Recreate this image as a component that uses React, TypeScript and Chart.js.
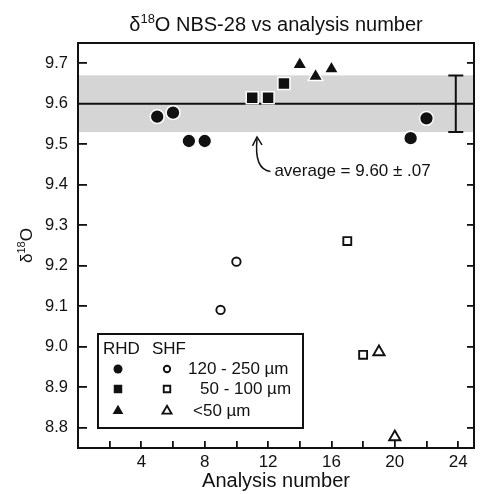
import React, { useEffect, useRef } from 'react';
import { Chart, registerables } from 'chart.js';
import { drawPoint } from 'chart.js/helpers';

Chart.register(...registerables);

const FONT = "'Liberation Sans', Arial, Helvetica, sans-serif";
const INK = '#111';

// ---- data ----
const rhdLargeX = [5, 6, 7, 8, 21, 22];
const rhdLargeY = [9.568, 9.578, 9.508, 9.508, 9.515, 9.564];
const rhdMidX = [11, 12, 13];
const rhdMidY = [9.615, 9.615, 9.65];
const rhdSmallX = [14, 15, 16];
const rhdSmallY = [9.697, 9.668, 9.686];
const shfLargeX = [9, 10];
const shfLargeY = [9.091, 9.21];
const shfMidX = [17, 18];
const shfMidY = [9.261, 8.98];
const shfSmallX = [19, 20];
const shfSmallY = [8.987, 8.777];

const average = 9.6;
const spread = 0.07;
const errorBarX = 23.85;

const xTickValues = [2, 4, 6, 8, 10, 12, 14, 16, 18, 20, 22, 24];
const yTickValues = [8.8, 8.9, 9.0, 9.1, 9.2, 9.3, 9.4, 9.5, 9.6, 9.7];
const xMin = 0;
const xMax = 25;
const yMin = 8.75;
const yMax = 9.75;

const legendRows = ['120 - 250 \u00b5m', '50 - 100 \u00b5m', '<50 \u00b5m'];
const annotationText = 'average = 9.60 \u00b1 .07';

const toPoints = (xs: number[], ys: number[]) => xs.map((x, i) => ({ x, y: ys[i] }));

type Seg = { t: string; size: number; dy: number };

function drawSegs(ctx: CanvasRenderingContext2D, segs: Seg[], cx: number, baseY: number) {
  let total = 0;
  const widths = segs.map((s) => {
    ctx.font = `${s.size}px ${FONT}`;
    const w = ctx.measureText(s.t).width;
    total += w;
    return w;
  });
  let x = cx - total / 2;
  ctx.textAlign = 'left';
  ctx.textBaseline = 'alphabetic';
  segs.forEach((s, i) => {
    ctx.font = `${s.size}px ${FONT}`;
    ctx.fillText(s.t, x, baseY + s.dy);
    x += widths[i];
  });
}

export default function App() {
  const ref = useRef<HTMLCanvasElement>(null);

  useEffect(() => {
    const canvas = ref.current!;

    const overlay = {
      id: 'overlay',
      beforeDatasetsDraw(chart: any) {
        const { ctx, chartArea: a, scales } = chart;
        const xs = scales.x;
        const ys = scales.y;
        ctx.save();
        // grey band
        const yTop = ys.getPixelForValue(average + spread);
        const yBot = ys.getPixelForValue(average - spread);
        ctx.fillStyle = '#d5d5d5';
        ctx.fillRect(a.left, yTop, a.right - a.left, yBot - yTop);
        // average line
        const yAvg = ys.getPixelForValue(average);
        ctx.strokeStyle = INK;
        ctx.lineWidth = 2;
        ctx.beginPath();
        ctx.moveTo(a.left, yAvg);
        ctx.lineTo(a.right, yAvg);
        ctx.stroke();
        // error bar
        const ex = xs.getPixelForValue(errorBarX);
        ctx.beginPath();
        ctx.moveTo(ex, yTop);
        ctx.lineTo(ex, yBot);
        ctx.moveTo(ex - 7.5, yTop);
        ctx.lineTo(ex + 7.5, yTop);
        ctx.moveTo(ex - 7.5, yBot);
        ctx.lineTo(ex + 7.5, yBot);
        ctx.stroke();
        ctx.restore();
      },
      afterDatasetsDraw(chart: any) {
        const { ctx, chartArea: a, scales } = chart;
        const xs = scales.x;
        const ys = scales.y;
        ctx.save();
        // frame
        ctx.strokeStyle = INK;
        ctx.lineWidth = 2;
        ctx.strokeRect(a.left, a.top, a.right - a.left, a.bottom - a.top);

        // annotation
        const tx = xs.getPixelForValue(12.4);
        const ty = ys.getPixelForValue(9.433);
        ctx.fillStyle = INK;
        ctx.font = `17px ${FONT}`;
        ctx.textAlign = 'left';
        ctx.textBaseline = 'middle';
        ctx.fillText(annotationText, tx, ty);
        const tipX = xs.getPixelForValue(11.3);
        const tipY = ys.getPixelForValue(9.518);
        ctx.lineWidth = 1.5;
        ctx.beginPath();
        ctx.moveTo(tx - 4, ty);
        ctx.quadraticCurveTo(tipX - 3, ty - 2, tipX, tipY + 2);
        ctx.stroke();
        ctx.beginPath();
        ctx.moveTo(tipX - 4.5, tipY + 9);
        ctx.lineTo(tipX, tipY);
        ctx.lineTo(tipX + 5, tipY + 8);
        ctx.stroke();

        // legend box
        const lx = a.left + 20;
        const ly = a.bottom - 114;
        const lw = 205;
        const lh = 94;
        ctx.fillStyle = '#fff';
        ctx.fillRect(lx, ly, lw, lh);
        ctx.strokeStyle = INK;
        ctx.lineWidth = 2;
        ctx.strokeRect(lx, ly, lw, lh);
        ctx.fillStyle = INK;
        ctx.font = `17px ${FONT}`;
        ctx.textBaseline = 'middle';
        ctx.textAlign = 'left';
        ctx.fillText('RHD', lx + 5, ly + 15);
        ctx.fillText('SHF', lx + 54, ly + 15);
        const rowY = [ly + 35, ly + 55, ly + 77];
        const textX = [lx + 90, lx + 102, lx + 95];
        const styles = ['circle', 'rect', 'triangle'];
        const filledR = [4.5, 6.0, 6.2];
        const openR = [3.2, 4.6, 5.2];
        for (let i = 0; i < 3; i++) {
          ctx.fillStyle = INK;
          ctx.strokeStyle = INK;
          ctx.lineWidth = 0;
          drawPoint(ctx, { pointStyle: styles[i], rotation: 0, radius: filledR[i], borderWidth: 0 } as any, lx + 20, rowY[i]);
          ctx.fillStyle = '#fff';
          ctx.lineWidth = 1.9;
          drawPoint(ctx, { pointStyle: styles[i], rotation: 0, radius: openR[i], borderWidth: 1.9 } as any, lx + 69, rowY[i]);
          ctx.fillStyle = INK;
          ctx.font = `17px ${FONT}`;
          ctx.textAlign = 'left';
          ctx.textBaseline = 'middle';
          ctx.fillText(legendRows[i], textX[i], rowY[i]);
        }
        ctx.restore();
      },
      afterDraw(chart: any) {
        const { ctx, chartArea: a } = chart;
        ctx.save();
        ctx.fillStyle = INK;
        drawSegs(
          ctx,
          [
            { t: '\u03b4', size: 20, dy: 0 },
            { t: '18', size: 13, dy: -8 },
            { t: 'O NBS-28 vs analysis number', size: 20, dy: 0 },
          ],
          (a.left + a.right) / 2,
          31
        );
        ctx.translate(32, (a.top + a.bottom) / 2);
        ctx.rotate(-Math.PI / 2);
        drawSegs(
          ctx,
          [
            { t: '\u03b4', size: 17, dy: 0 },
            { t: '18', size: 11, dy: -7 },
            { t: 'O', size: 17, dy: 0 },
          ],
          0,
          0
        );
        ctx.restore();
      },
    };

    const filled = (style: string, r: number) => ({
      pointStyle: style,
      pointRadius: r,
      pointHoverRadius: r,
      backgroundColor: INK,
      borderColor: '#fff',
      pointBackgroundColor: INK,
      pointBorderColor: '#fff',
      pointBorderWidth: 1.5,
      pointHoverBorderWidth: 1.5,
    });
    const open = (style: string, r: number) => ({
      pointStyle: style,
      pointRadius: r,
      pointHoverRadius: r,
      backgroundColor: '#fff',
      borderColor: INK,
      pointBackgroundColor: '#fff',
      pointBorderColor: INK,
      pointBorderWidth: 1.9,
      pointHoverBorderWidth: 1.9,
    });

    const chart = new Chart(canvas, {
      type: 'scatter',
      data: {
        datasets: [
          { label: 'RHD 120-250', data: toPoints(rhdLargeX, rhdLargeY), ...filled('circle', 6.9) },
          { label: 'RHD 50-100', data: toPoints(rhdMidX, rhdMidY), ...filled('rect', 8.5) },
          { label: 'RHD <50', data: toPoints(rhdSmallX, rhdSmallY), ...filled('triangle', 8.4) },
          { label: 'SHF 120-250', data: toPoints(shfLargeX, shfLargeY), ...open('circle', 4.2) },
          { label: 'SHF 50-100', data: toPoints(shfMidX, shfMidY), ...open('rect', 5.6) },
          { label: 'SHF <50', data: toPoints(shfSmallX, shfSmallY), ...open('triangle', 6.5) },
        ] as any,
      },
      options: {
        animation: false,
        responsive: false,
        events: [],
        layout: { padding: { top: 43, left: 0, right: 0, bottom: 0 } },
        plugins: {
          legend: { display: false },
          title: { display: false },
          tooltip: { enabled: false },
        },
        scales: {
          x: {
            type: 'linear',
            position: 'bottom',
            min: xMin,
            max: xMax,
            afterBuildTicks: (s: any) => {
              s.ticks = xTickValues.map((v) => ({ value: v }));
            },
            afterFit: (s: any) => {
              s.height = 46;
            },
            border: { display: false },
            grid: {
              drawOnChartArea: false,
              drawTicks: true,
              tickLength: -7,
              color: INK,
              lineWidth: 1.8,
            },
            ticks: {
              autoSkip: false,
              maxRotation: 0,
              padding: 11,
              color: INK,
              font: { family: FONT, size: 17 },
              callback: (v: any) => (Number(v) % 4 === 0 ? String(v) : ''),
            },
            title: {
              display: true,
              text: 'Analysis number',
              color: INK,
              font: { family: FONT, size: 20 },
              padding: { top: 0, bottom: 1 },
            },
          },
          y: {
            type: 'linear',
            position: 'left',
            min: yMin,
            max: yMax,
            afterBuildTicks: (s: any) => {
              s.ticks = yTickValues.map((v) => ({ value: v }));
            },
            afterFit: (s: any) => {
              s.width = 78;
            },
            border: { display: false },
            grid: {
              drawOnChartArea: false,
              drawTicks: true,
              tickLength: -9,
              color: INK,
              lineWidth: 1.8,
            },
            ticks: {
              autoSkip: false,
              padding: 19,
              color: INK,
              font: { family: FONT, size: 16.5 },
              callback: (v: any) => Number(v).toFixed(1),
            },
          },
          y2: {
            type: 'linear',
            position: 'right',
            min: yMin,
            max: yMax,
            afterBuildTicks: (s: any) => {
              s.ticks = yTickValues.map((v) => ({ value: v }));
            },
            afterFit: (s: any) => {
              s.width = 3;
            },
            border: { display: false },
            grid: {
              drawOnChartArea: false,
              drawTicks: true,
              tickLength: -7,
              color: INK,
              lineWidth: 1.8,
            },
            ticks: { display: false },
          },
        },
      } as any,
      plugins: [overlay],
    });

    return () => chart.destroy();
  }, []);

  return (
    <div style={{ position: 'fixed', left: 0, top: 0, width: 484, height: 494, background: '#fff' }}>
      <canvas ref={ref} width={484} height={494} style={{ display: 'block' }} />
    </div>
  );
}
